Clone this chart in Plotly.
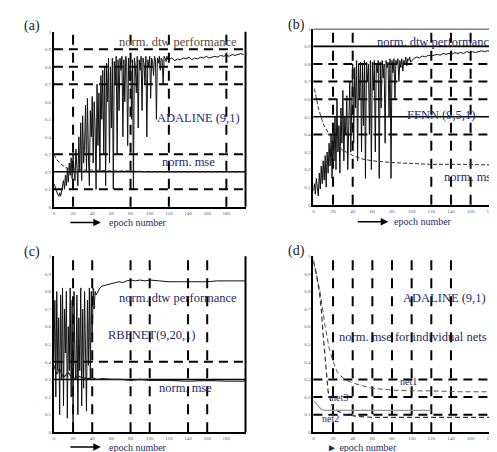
import plotly.graph_objects as go

W, H = 497, 452

def px(x, y):
    return x / W, 1 - y / H

# ---------------- data ----------------
X_TICKS = [0, 20, 40, 60, 80, 100, 120, 140, 160, 180]
X_TICK_TEXT = ["0", "20", "40", "60", "80", "100", "120", "140", "160", "180"]
Y_TICKS = [0, 0.1, 0.2, 0.3, 0.4, 0.5, 0.6, 0.7, 0.8, 0.9, 1.0]
Y_TICK_TEXT = ["0", "0.1", "0.2", "0.3", "0.4", "0.5", "0.6", "0.7", "0.8", "0.9", "1"]

# (a) ADALINE (9,1)
A_PERF_OSC = [0.13, 0.12, 0.10, 0.08, 0.07, 0.06, 0.08, 0.06, 0.09, 0.12,
              0.15, 0.10, 0.18, 0.12, 0.22, 0.14, 0.25, 0.18, 0.28, 0.16,
              0.30, 0.20, 0.15, 0.33, 0.22, 0.12, 0.40, 0.20, 0.48, 0.15,
              0.52, 0.25, 0.35, 0.58, 0.20, 0.62, 0.30, 0.12, 0.55, 0.40,
              0.63, 0.25, 0.60, 0.45, 0.10, 0.70, 0.35, 0.65, 0.20, 0.75,
              0.50, 0.78, 0.30, 0.80, 0.12, 0.82, 0.60, 0.85, 0.25, 0.80,
              0.45, 0.85, 0.10, 0.83, 0.70, 0.86, 0.30, 0.84, 0.55, 0.85,
              0.78, 0.86, 0.40, 0.84, 0.60, 0.86, 0.82, 0.35, 0.85, 0.72,
              0.86, 0.50, 0.84, 0.10, 0.85, 0.80, 0.65, 0.86, 0.45, 0.84,
              0.78, 0.86, 0.55, 0.85, 0.82, 0.70, 0.86, 0.40, 0.84, 0.80,
              0.86, 0.62, 0.85, 0.83, 0.75, 0.86, 0.84, 0.50, 0.85, 0.82,
              0.86, 0.78, 0.85, 0.84, 0.70, 0.86, 0.85, 0.83, 0.86, 0.84]
A_PERF_X = [120, 123, 126, 129, 132, 135, 138, 141, 144, 147, 150, 153, 156, 159,
            162, 165, 168, 171, 174, 177, 180, 183, 186, 189, 192, 195, 198]
A_PERF_Y = [0.84, 0.85, 0.835, 0.845, 0.84, 0.85, 0.845, 0.855, 0.84, 0.85, 0.845, 0.855,
            0.85, 0.86, 0.85, 0.855, 0.86, 0.855, 0.865, 0.86, 0.865, 0.86, 0.87, 0.865,
            0.87, 0.875, 0.87]
A_MSE_X = [0, 3, 6, 9, 12, 15, 20, 30, 40, 60, 80, 100, 120, 150, 180, 200]
A_MSE_Y = [0.30, 0.27, 0.25, 0.235, 0.225, 0.22, 0.215, 0.21, 0.21, 0.205, 0.205,
           0.20, 0.20, 0.20, 0.20, 0.20]

# (b) FFNN (9,5,1)
B_PERF_OSC = [0.08, 0.12, 0.06, 0.15, 0.10, 0.05, 0.18, 0.09, 0.22, 0.12,
              0.25, 0.14, 0.28, 0.10, 0.30, 0.18, 0.35, 0.22, 0.40, 0.15,
              0.42, 0.25, 0.50, 0.20, 0.60, 0.30, 0.45, 0.18, 0.55, 0.35,
              0.65, 0.25, 0.50, 0.40, 0.62, 0.20, 0.45, 0.70, 0.30, 0.55,
              0.80, 0.35, 0.78, 0.55, 0.82, 0.25, 0.80, 0.60, 0.81, 0.30,
              0.80, 0.45, 0.82, 0.15, 0.81, 0.70, 0.80, 0.40, 0.82, 0.20,
              0.81, 0.65, 0.82, 0.30, 0.80, 0.75, 0.82, 0.15, 0.81, 0.55,
              0.82, 0.72, 0.80, 0.35, 0.82, 0.78, 0.81, 0.50, 0.83, 0.15,
              0.82, 0.75, 0.83, 0.60, 0.82, 0.80, 0.83, 0.70, 0.82, 0.78,
              0.83, 0.76, 0.82, 0.80, 0.84, 0.79, 0.83, 0.82, 0.84, 0.81]
B_PERF_X = [102, 105, 108, 111, 114, 117, 120, 123, 126, 129, 132, 135, 138, 141, 144,
            147, 150, 153, 156, 159, 162, 165, 168, 171, 174, 177, 180, 183, 186, 189, 192, 195]
B_PERF_Y = [0.83, 0.84, 0.835, 0.845, 0.84, 0.85, 0.845, 0.85, 0.855, 0.85, 0.86, 0.855,
            0.86, 0.855, 0.865, 0.86, 0.865, 0.86, 0.87, 0.865, 0.87, 0.865, 0.87, 0.875,
            0.87, 0.875, 0.87, 0.875, 0.88, 0.875, 0.88, 0.875]
B_MSE_X = [1, 5, 10, 15, 20, 25, 30, 40, 50, 60, 80, 100, 120, 150, 180, 195]
B_MSE_Y = [0.66, 0.55, 0.46, 0.41, 0.37, 0.33, 0.31, 0.28, 0.26, 0.25, 0.24, 0.235,
           0.23, 0.23, 0.225, 0.225]

# (c) RBFNET (9,20,1)
C_PERF_OSC = [0.40, 0.75, 0.20, 0.80, 0.35, 0.65, 0.10, 0.78, 0.30, 0.82,
              0.15, 0.70, 0.45, 0.80, 0.08, 0.60, 0.35, 0.82, 0.20, 0.75,
              0.05, 0.80, 0.40, 0.30, 0.78, 0.10, 0.65, 0.35, 0.82, 0.15,
              0.70, 0.25, 0.80, 0.45, 0.12, 0.75, 0.38, 0.82, 0.30, 0.80,
              0.55, 0.82, 0.70, 0.80, 0.78]
C_PERF_X = [46, 48, 50, 53, 56, 60, 64, 68, 72, 76, 80, 85, 90, 95, 100, 110, 120, 130,
            140, 150, 160, 170, 180, 190, 200]
C_PERF_Y = [0.80, 0.82, 0.83, 0.835, 0.84, 0.845, 0.85, 0.855, 0.85, 0.86, 0.865, 0.86,
            0.865, 0.86, 0.865, 0.86, 0.855, 0.855, 0.855, 0.855, 0.855, 0.86, 0.86, 0.86, 0.86]
C_MSE_X = [0, 3, 6, 10, 15, 20, 25, 30, 35, 40, 45, 50, 60, 70, 80, 90, 100, 120, 140,
           160, 180, 200]
C_MSE_Y = [0.38, 0.33, 0.36, 0.31, 0.34, 0.30, 0.32, 0.31, 0.305, 0.31, 0.30, 0.305,
           0.30, 0.30, 0.295, 0.30, 0.295, 0.295, 0.29, 0.295, 0.29, 0.29]

# (d) ADALINE (9,1): norm. mse for individual nets
D_NET1_X = [0, 3, 7, 12, 16, 19, 24, 28, 32, 40, 46, 52, 59, 70, 80, 100, 120, 150, 180, 195]
D_NET1_Y = [0.98, 0.90, 0.79, 0.60, 0.48, 0.42, 0.345, 0.32, 0.30, 0.28, 0.27, 0.26,
            0.25, 0.245, 0.24, 0.235, 0.235, 0.23, 0.23, 0.23]
D_NET2_X = [0, 3, 6, 8, 10, 12, 15, 18, 20, 25, 32, 40, 46, 60, 80, 100, 140, 195]
D_NET2_Y = [0.97, 0.90, 0.80, 0.70, 0.55, 0.42, 0.23, 0.17, 0.14, 0.12, 0.10, 0.095,
            0.09, 0.085, 0.085, 0.085, 0.085, 0.085]
D_NET3_X = [0, 3, 6, 8, 12, 20, 40, 60, 80, 100, 120]
D_NET3_Y = [0.18, 0.16, 0.14, 0.13, 0.125, 0.125, 0.125, 0.125, 0.125, 0.125, 0.125]

# grid lines per panel: (dashed horizontal, solid horizontal, dashed vertical)
GRID = {
    "a": ([0.9, 0.8, 0.7, 0.3, 0.1], [0.2], [20, 80, 120, 180]),
    "b": ([0.8, 0.7, 0.6, 0.4], [1.0, 0.9, 0.5], [20, 40, 120, 140, 160]),
    "c": ([0.4], [0.3], [20, 40, 80, 100, 140, 160]),
    "d": ([0.3, 0.2, 0.1], [], [20, 40, 60, 80, 100, 120, 140]),
}

# ---------------- figure ----------------
SERIF = "Liberation Serif, Times New Roman, serif"
TXT = "#1c2a6e"
LBL = 12.5
EPO = 10
fig = go.Figure()

panels = {
    "a": ("x", "y", [px(45, 0)[0], px(237, 0)[0]], [px(0, 199)[1], px(0, 22)[1]], [0, 200]),
    "b": ("x2", "y2", [px(305, 0)[0], 1.0], [px(0, 197)[1], px(0, 19)[1]], [0, 195]),
    "c": ("x3", "y3", [px(45, 0)[0], px(237, 0)[0]], [px(0, 427)[1], px(0, 249)[1]], [0, 200]),
    "d": ("x4", "y4", [px(305, 0)[0], 1.0], [px(0, 427)[1], px(0, 249)[1]], [0, 195]),
}

line_main = dict(color="#111111", width=1)
line_mse = dict(color="#333333", width=1, dash="4px,2px")

# (a)
fig.add_trace(go.Scatter(x=list(range(len(A_PERF_OSC))) + A_PERF_X, y=A_PERF_OSC + A_PERF_Y,
                         mode="lines", line=line_main, xaxis="x", yaxis="y"))
fig.add_trace(go.Scatter(x=A_MSE_X, y=A_MSE_Y, mode="lines", line=line_mse, xaxis="x", yaxis="y"))
# (b)
fig.add_trace(go.Scatter(x=list(range(len(B_PERF_OSC))) + B_PERF_X, y=B_PERF_OSC + B_PERF_Y,
                         mode="lines", line=line_main, xaxis="x2", yaxis="y2"))
fig.add_trace(go.Scatter(x=B_MSE_X, y=B_MSE_Y, mode="lines", line=line_mse, xaxis="x2", yaxis="y2"))
# (c)
fig.add_trace(go.Scatter(x=list(range(len(C_PERF_OSC))) + C_PERF_X, y=C_PERF_OSC + C_PERF_Y,
                         mode="lines", line=line_main, xaxis="x3", yaxis="y3"))
fig.add_trace(go.Scatter(x=C_MSE_X, y=C_MSE_Y, mode="lines", line=dict(color="#222", width=1.2),
                         xaxis="x3", yaxis="y3"))
# (d)
fig.add_trace(go.Scatter(x=D_NET1_X, y=D_NET1_Y, mode="lines",
                         line=dict(color="#555", width=1, dash="5px,3px"), xaxis="x4", yaxis="y4"))
fig.add_trace(go.Scatter(x=D_NET2_X, y=D_NET2_Y, mode="lines",
                         line=dict(color="#333", width=1.2, dash="5px,3px"), xaxis="x4", yaxis="y4"))
fig.add_trace(go.Scatter(x=D_NET3_X, y=D_NET3_Y, mode="lines",
                         line=dict(color="#999", width=1.2), xaxis="x4", yaxis="y4"))

shapes = []
layout = {}
for key, (xa, ya, xdom, ydom, xr) in panels.items():
    xname = "xaxis" + xa[1:]
    yname = "yaxis" + ya[1:]
    common = dict(showline=True, linecolor="black", linewidth=2, showgrid=False, zeroline=False,
                  ticks="", tickfont=dict(size=5, color="#4a5a9a", family=SERIF))
    layout[xname] = dict(domain=xdom, range=xr, anchor=ya, tickvals=X_TICKS, ticktext=X_TICK_TEXT,
                         **common)
    layout[yname] = dict(domain=ydom, range=[0, 1], anchor=xa, tickvals=Y_TICKS,
                         ticktext=Y_TICK_TEXT, **common)
    dashed_h, solid_h, dashed_v = GRID[key]
    for v in dashed_h:
        shapes.append(dict(type="line", xref=xa + " domain", yref=ya, x0=0, x1=1, y0=v, y1=v,
                           line=dict(color="black", width=2, dash="9px,6px"), layer="below"))
    for v in solid_h:
        shapes.append(dict(type="line", xref=xa + " domain", yref=ya, x0=0, x1=1, y0=v, y1=v,
                           line=dict(color="black", width=1.6), layer="below"))
    for v in dashed_v:
        shapes.append(dict(type="line", xref=xa, yref=ya + " domain", x0=v, x1=v, y0=0, y1=1,
                           line=dict(color="black", width=2, dash="10px,8px"), layer="below"))
    if key in ("a", "c"):
        shapes.append(dict(type="line", xref=xa + " domain", yref=ya + " domain", x0=1, x1=1,
                           y0=0, y1=1, line=dict(color="black", width=2)))

def ann(text, x, y, xref, yref, size=LBL, xanchor="center", color=TXT):
    return dict(text=text, x=x, y=y, xref=xref, yref=yref, showarrow=False,
                xanchor=xanchor, yanchor="middle", borderpad=0,
                font=dict(family=SERIF, size=size, color=color))

annotations = [
    ann("(a)", *px(23, 16), "paper", "paper", size=14, color="#222"),
    ann("(b)", *px(288, 15), "paper", "paper", size=14, color="#222"),
    ann("(c)", *px(23, 245), "paper", "paper", size=14, color="#222"),
    ann("(d)", *px(288, 244), "paper", "paper", size=14, color="#222"),
    # (a)
    ann("norm. dtw performance", 130, 0.94, "x", "y", color="#5a4a40"),
    ann("ADALINE (9,1)", 151, 0.51, "x", "y"),
    ann("norm. mse", 140, 0.255, "x", "y"),
    # (b)
    ann("norm. dtw performance", 64, 0.925, "x2", "y2", xanchor="left"),
    ann("FFNN (9,5,1)", 94, 0.51, "x2", "y2", xanchor="left"),
    ann("norm. mse", 132, 0.16, "x2", "y2", xanchor="left"),
    # (c)
    ann("norm. dtw performance", 130, 0.765, "x3", "y3"),
    ann("RBFNET(9,20,1)", 102, 0.55, "x3", "y3"),
    ann("norm. mse", 137, 0.25, "x3", "y3"),
    # (d)
    ann("ADALINE (9,1)", 133, 0.765, "x4", "y4"),
    ann("norm. mse for individual nets", 101, 0.54, "x4", "y4"),
    ann("net1", 97, 0.29, "x4", "y4", size=10),
    ann("net3", 27, 0.2, "x4", "y4", size=10),
    ann("net2", 17, 0.08, "x4", "y4", size=10),
    # epoch number labels
    ann("epoch number", *px(99, 215), "paper", "paper", xanchor="left", size=EPO),
    ann("epoch number", *px(385, 214), "paper", "paper", xanchor="left", size=EPO),
    ann("epoch number", *px(99, 442), "paper", "paper", xanchor="left", size=EPO),
    ann("► epoch number", *px(318, 442), "paper", "paper", xanchor="left", size=EPO),
]
for (x0, x1, y) in [(60, 92, 215), (348, 380, 214), (60, 92, 442)]:
    ax, ay = px(x1, y)
    annotations.append(dict(x=ax, y=ay, xref="paper", yref="paper", text="", showarrow=True,
                            ax=x0 - x1, ay=0, arrowhead=2, arrowsize=1, arrowwidth=1.5,
                            arrowcolor="black"))

fig.update_layout(width=W, height=H, margin=dict(l=0, r=0, t=0, b=0),
                  paper_bgcolor="white", plot_bgcolor="white", showlegend=False,
                  shapes=shapes, annotations=annotations, **layout)

fig.write_html("out.html")
